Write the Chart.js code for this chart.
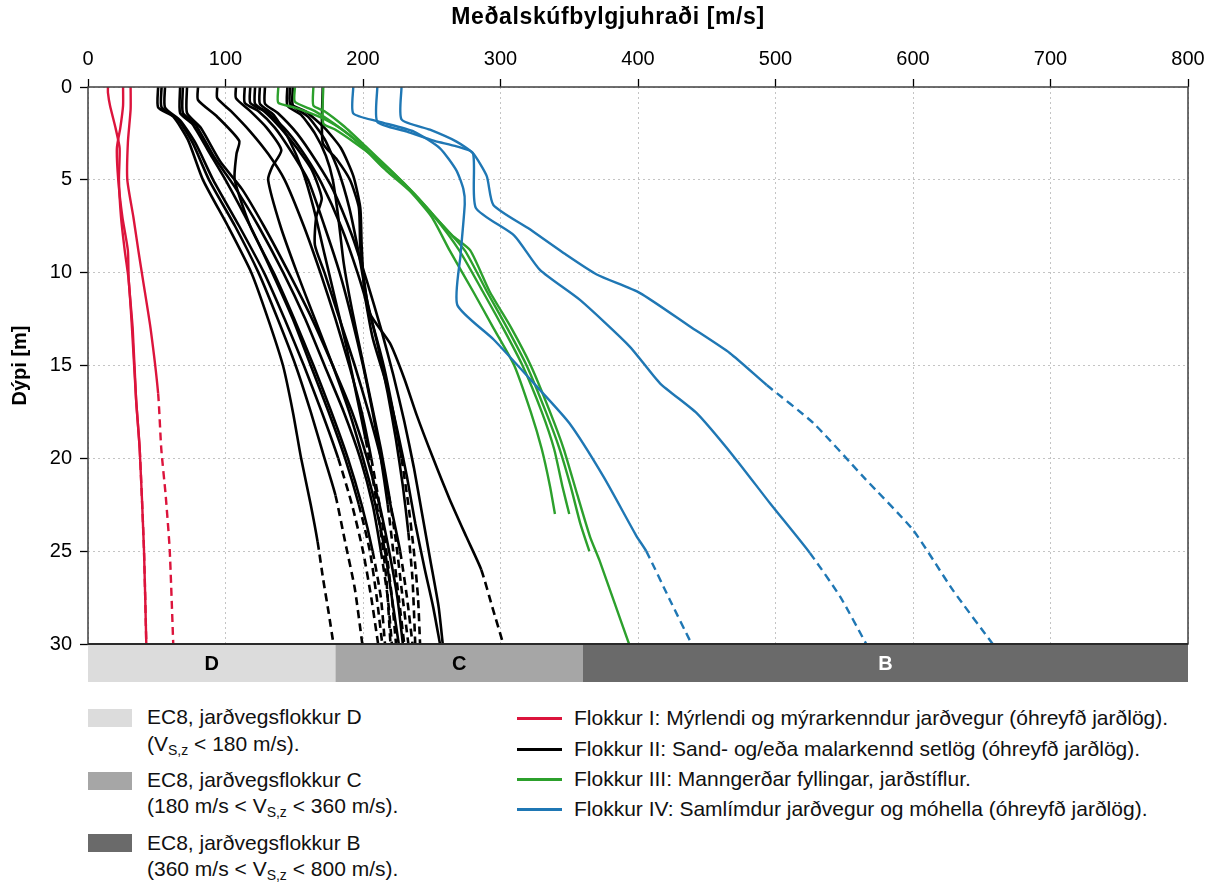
<!DOCTYPE html>
<html>
<head>
<meta charset="utf-8">
<script src="https://cdn.jsdelivr.net/npm/chart.js@4.4.1/dist/chart.umd.min.js"></script>
<style>
  body { margin: 0; background: #fff; font-family: "Liberation Sans", Arial, sans-serif; }
  #wrap { position: relative; width: 1215px; height: 884px; }
  #chart { position: absolute; left: 0; top: 0; }
  .lg { position: absolute; font-size: 21px; line-height: 24px; color: #111; white-space: nowrap; }
  .box { position: absolute; width: 44px; height: 18px; }
  .sw { position: absolute; width: 45px; height: 3px; }
  sub { font-size: 14px; vertical-align: -4px; line-height: 0; }
</style>
</head>
<body>
<div id="wrap">
  <canvas id="chart" width="1215" height="700"></canvas>

  <div class="box" style="left:88px; top:709px; background:#dcdcdc;"></div>
  <div class="lg" style="left:147px; top:705px;">EC8, jarðvegsflokkur D</div>
  <div class="lg" style="left:147px; top:732px;">(V<sub>S,z</sub> &lt; 180 m/s).</div>
  <div class="box" style="left:88px; top:772px; background:#a6a6a6;"></div>
  <div class="lg" style="left:147px; top:768px;">EC8, jarðvegsflokkur C</div>
  <div class="lg" style="left:147px; top:794px;">(180 m/s &lt; V<sub>S,z</sub> &lt; 360 m/s).</div>
  <div class="box" style="left:88px; top:834px; background:#6a6a6a;"></div>
  <div class="lg" style="left:147px; top:831px;">EC8, jarðvegsflokkur B</div>
  <div class="lg" style="left:147px; top:857px;">(360 m/s &lt; V<sub>S,z</sub> &lt; 800 m/s).</div>

  <div class="sw" style="left:517px; top:717px; background:#dc143c;"></div>
  <div class="lg" style="left:574px; top:706px;">Flokkur I: Mýrlendi og mýrarkenndur jarðvegur (óhreyfð jarðlög).</div>
  <div class="sw" style="left:517px; top:748px; background:#000;"></div>
  <div class="lg" style="left:574px; top:737px;">Flokkur II: Sand- og/eða malarkennd setlög (óhreyfð jarðlög).</div>
  <div class="sw" style="left:517px; top:778px; background:#2ca02c;"></div>
  <div class="lg" style="left:574px; top:767px;">Flokkur III: Manngerðar fyllingar, jarðstíflur.</div>
  <div class="sw" style="left:517px; top:808px; background:#1f77b4;"></div>
  <div class="lg" style="left:574px; top:797px;">Flokkur IV: Samlímdur jarðvegur og móhella (óhreyfð jarðlög).</div>
</div>

<script>
const velTicks = [0, 100, 200, 300, 400, 500, 600, 700, 800];
const depthTicks = [0, 5, 10, 15, 20, 25, 30];
const classEdges = [0, 180, 360, 800];
const classNames = ["D", "C", "B"];

// each profile: [depth where the measured part ends, [[Vs, depth], ...]]
// below that depth the profile is extrapolated (dashed)
const redProfiles = [
  [19.5, [[14.5,0],[14.5,0.3],[16,1],[20,2.2],[23,3.3],[22.5,5],[24,7],[26.7,8.8],[29.6,10.4],[32,13],[35,16.85],[37.6,19.5],[40.7,24.9],[42.4,30]]],
  [30, [[25.5,0],[25.5,1],[23.5,2.2],[21,3.3],[22,5],[25,7],[29,8.8],[29.6,10.4],[32.5,13],[35,16.85],[37.6,19.5],[40.7,24.9],[42.4,30]]],
  [16.5, [[31,0],[31,1.2],[29,3],[28.6,5],[33,7],[36.6,8.8],[40,10.4],[45.5,13],[51,16.5],[53.3,19.5],[56.5,22],[59.4,24.9],[62,30]]]
];

const blackProfiles = [
  [24.5, [[51,0],[51,1.1],[62,1.6],[72.7,2.85],[83.6,5],[101.8,7.5],[118.8,10],[131,12.5],[141.8,15],[149,17.5],[155,20],[162,22.5],[167,24.5],[171,26.5],[175,28.3],[178.5,30]]],
  [22, [[53.5,0],[53.5,1.1],[65,1.7],[76,3],[88,5],[107,7.5],[124,10],[138,12.5],[151,15],[162,17.5],[172,20],[180,22],[187,24.5],[194,27],[199.5,30]]],
  [20, [[56,0],[56,1.1],[67,1.8],[78,3],[91,5],[110,7.5],[128,10],[143,12.5],[157,15],[170,17.5],[182,20],[192,22.5],[200,25],[206,27.5],[211,30]]],
  [22.5, [[67,0],[67,1.4],[76,2],[88,3.5],[100,5],[118,7.5],[134,10],[149,12.5],[162,15],[175,17.5],[187,20],[197,22.5],[205,25],[210,27.5],[214,30]]],
  [25, [[69,0],[69,1.4],[78,2],[92,3.8],[106,5.3],[124,7.5],[142,10],[158,12.5],[172,15],[186,17.5],[198,20],[207,22.5],[213,25],[218,27.5],[221,30]]],
  [30, [[72,0],[72,1.4],[82,2.2],[96,4],[112,5.5],[128,7.5],[146,10],[163,12.5],[178,15],[192,17.5],[203,20],[212,22.5],[219,25],[225,27.5],[229,30]]],
  [25, [[80,0],[80,0.7],[94,1.6],[110,2.9],[108,3.6],[106.7,5],[118,7.5],[135,10],[150,12.5],[164,15],[177,17.5],[189,20],[199,22.5],[207,25],[213,27.5],[216,30]]],
  [20, [[94,0],[94,0.6],[104,1.3],[118,2.4],[131,3.6],[143,5],[157,7.5],[169,10],[180,12.5],[190,15],[199,17.5],[206,20],[212,22.5],[217,25],[221,27.5],[224,30]]],
  [30, [[107.6,0],[107.6,0.6],[118,1.3],[130,2.2],[140.6,3.4],[134,4.3],[131,5],[140,7.5],[152,10],[165,12.5],[178,15],[190,17.5],[200,20],[209,22.5],[216,25],[221,27.5],[226,30]]],
  [21, [[114,0],[114,0.85],[124,1.3],[136,2.2],[148,3.5],[160,5],[172,7.5],[183,10],[192,12.5],[200,15],[207,17.5],[213,20],[218,22.5],[222,25],[226,27.5],[230,30]]],
  [23, [[118,0],[118,0.85],[128,1.3],[140,2.2],[152,3.3],[163,4.5],[170,6],[166,7],[165,8.5],[172,10],[183,12.5],[194,15],[204,17.5],[213,20],[220,22.5],[227,25],[232,27.5],[236,30]]],
  [18, [[121.5,0],[121.5,0.9],[131,1.4],[145,2.4],[158,3.7],[170,5.2],[184,7.5],[196,10],[206,12.5],[215,15],[222,17.5],[228,20],[233,22.5],[237,25],[240,27.5],[241.5,30]]],
  [19, [[125,0],[125,0.9],[135,1.5],[146,2.8],[156,4.5],[164,6.5],[172,9],[180,11.5],[188,14],[195,16.5],[202,19],[208,21.5],[213,24],[217,26.5],[220,30]]],
  [30, [[128.7,0],[128.7,0.9],[138,1.4],[152,2.5],[166,4],[178,5.5],[192,8],[203,10.5],[213,13],[222,15.5],[230,18],[237,20.5],[243,23],[249,25.5],[255,28],[258,30]]],
  [22, [[145,0],[145,1],[155,1.5],[165,2.5],[173,3.7],[178,5],[182,7],[186,9.5],[192,12],[199,14.5],[206,17],[213,19.5],[219,22],[224,24.5],[228,27],[233,30]]],
  [30, [[147,0],[147,0.9],[158,1.3],[172,2.2],[184,3.3],[193,4.8],[198,6.5],[199,8.5],[201,11],[207,13.5],[217,16],[225,18.5],[232,21],[238,23.5],[245,26],[251,28],[256,30]]],
  [24, [[149,0],[149,1],[160,1.6],[172,2.8],[182,4.5],[190,6.5],[197,9],[203,11.5],[211,14],[218,16.5],[224,19],[229,21.5],[233,24],[236,26.5],[238,30]]],
  [26, [[170.7,0],[170.7,3],[181,3.9],[190.5,5],[197,6.5],[198,8.6],[201,10.5],[205,12.2],[219.6,13.8],[230,15.7],[239,17.66],[251,20],[263,22.2],[275,24.2],[286,26],[294,28],[302,30]]]
];

const greenProfiles = [
  [23, [[150.5,0],[150.5,0.8],[165,1.3],[185,2.3],[200,3.2],[217,4.5],[234,5.6],[250,7],[263,8.8],[280,11],[295,13],[310,15],[322,17.5],[330,19.5],[336,21.5],[339.6,23]]],
  [23, [[138.4,0],[138.4,0.85],[150,1.1],[168,1.6],[183,2.2],[198,3.1],[214,4.3],[232,5.4],[252,7],[270,8.8],[287,11],[302,13],[316,15],[330,17.5],[339,19.5],[345,21.5],[350,23]]],
  [25, [[163.9,0],[163.9,1],[172,1.3],[186,2.1],[202,3.2],[219,4.4],[238,5.8],[256,7.3],[274,8.8],[290,11],[305,13],[319,15],[333,17.5],[343,19.5],[351,21.5],[358,23.5],[364.6,25]]],
  [30, [[171.1,0],[171.1,1.96],[180,2.3],[194,3],[212,4],[230,5.2],[250,6.8],[265,8],[278,8.8],[292,11],[308,13],[322,15],[336,17.5],[346,19.5],[356,22],[365,24.2],[372,25.5],[383,27.8],[393.5,30]]]
];

const blueProfiles = [
  [25, [[192.9,0],[192.9,1.42],[211,1.85],[237,2.4],[256,3.3],[268,4.5],[273,5.5],[274,6.3],[271,9],[268.6,11.74],[295,13.6],[326,16.1],[350,18.1],[375,21],[399,24.2],[406,25],[423,27.6],[439,30]]],
  [25.1, [[210.4,0],[210.4,1.87],[232,2.4],[252,2.9],[268,3.2],[280,3.57],[282,6.5],[310,8],[328.7,9.85],[357.8,11.47],[394,13.98],[416,15.96],[442.7,17.57],[469.7,19.91],[496,22.42],[525,25.1],[547,27.45],[566,30]]],
  [16.05, [[228,0],[228,1.74],[248.7,2.3],[268,2.94],[280,3.57],[290,4.8],[294.8,6.35],[320,7.6],[348,9.05],[370,10.1],[401.5,11.1],[437.8,12.9],[466.9,14.34],[493.6,16.05],[527.5,18.1],[563.9,21],[600,23.86],[629,27.1],[658,30]]]
];

const FONT = '"Liberation Sans", Arial, sans-serif';
const X_TITLE = "Meðalskúfbylgjuhraði [m/s]";

function makeSets(profiles, color, width, order) {
  return profiles.map(([solidTo, pts]) => ({
    data: pts.map(([v, d]) => ({ x: v, y: d })),
    borderColor: color,
    borderWidth: width,
    pointRadius: 0,
    showLine: true,
    fill: false,
    tension: 0.2,
    order: order,
    segment: {
      borderDash: (ctx) => (ctx.p0.parsed.y >= solidTo - 0.001 ? [8, 5] : undefined),
    },
  }));
}

// soil class band under the plot, frame round the plot area, top title
const bandAndFrame = {
  id: "bandAndFrame",
  afterDraw(chart) {
    const { ctx, chartArea: a, scales } = chart;
    const x = scales.x;
    const fills = ["#dcdcdc", "#a6a6a6", "#6a6a6a"];
    const inks = ["#000", "#000", "#fff"];
    ctx.save();
    for (let i = 0; i < classNames.length; i++) {
      const x0 = x.getPixelForValue(classEdges[i]);
      const x1 = x.getPixelForValue(classEdges[i + 1]);
      ctx.fillStyle = fills[i];
      ctx.fillRect(x0, a.bottom, x1 - x0, 38);
      ctx.fillStyle = inks[i];
      ctx.font = "bold 20px " + FONT;
      ctx.textAlign = "center";
      ctx.textBaseline = "middle";
      ctx.fillText(classNames[i], (x0 + x1) / 2, a.bottom + 20);
    }
    ctx.strokeStyle = "#404040";
    ctx.lineWidth = 1.5;
    ctx.strokeRect(a.left, a.top, a.right - a.left, a.bottom - a.top);
    ctx.strokeStyle = "#2a2a2a";
    ctx.lineWidth = 2;
    ctx.beginPath();
    ctx.moveTo(a.left, a.bottom);
    ctx.lineTo(a.right, a.bottom);
    ctx.stroke();

    ctx.fillStyle = "#000";
    ctx.font = "bold 23px " + FONT;
    if ("letterSpacing" in ctx) ctx.letterSpacing = "0.6px";
    ctx.textAlign = "center";
    ctx.textBaseline = "middle";
    ctx.fillText(X_TITLE, 608, 18);
    ctx.restore();
  },
};

new Chart(document.getElementById("chart"), {
  type: "scatter",
  data: {
    datasets: [
      ...makeSets(blueProfiles, "#1f77b4", 2.4, 1),
      ...makeSets(greenProfiles, "#2ca02c", 2.4, 2),
      ...makeSets(redProfiles, "#dc143c", 2.4, 3),
      ...makeSets(blackProfiles, "#000000", 2.6, 4),
    ],
  },
  options: {
    responsive: false,
    animation: false,
    layout: { padding: { left: 0, top: 0, right: 27, bottom: 56 } },
    plugins: { legend: { display: false }, tooltip: { enabled: false } },
    scales: {
      x: {
        type: "linear",
        position: "top",
        min: 0,
        max: 800,
        afterBuildTicks: (s) => { s.ticks = velTicks.map((v) => ({ value: v })); },
        afterFit: (s) => { s.height = 87; },
        ticks: { color: "#000", font: { size: 20, family: FONT }, padding: 8, maxRotation: 0 },
        grid: { color: "#c4c4c4", lineWidth: 1, tickColor: "#000", tickLength: 8, tickWidth: 1.3 },
        border: { display: false, dash: [2, 3] },
        title: { display: false },
      },
      y: {
        type: "linear",
        reverse: true,
        min: 0,
        max: 30,
        afterBuildTicks: (s) => { s.ticks = depthTicks.map((v) => ({ value: v })); },
        afterFit: (s) => { s.width = 88; },
        ticks: { color: "#000", font: { size: 20, family: FONT }, padding: 8 },
        grid: { color: "#c4c4c4", lineWidth: 1, tickColor: "#000", tickLength: 8, tickWidth: 1.3 },
        border: { display: false, dash: [2, 3] },
        title: {
          display: true,
          text: "Dýpi [m]",
          color: "#000",
          font: { size: 20, weight: "bold", family: FONT },
          padding: { top: 8, bottom: 0 },
        },
      },
    },
  },
  plugins: [bandAndFrame],
});
</script>
</body>
</html>
